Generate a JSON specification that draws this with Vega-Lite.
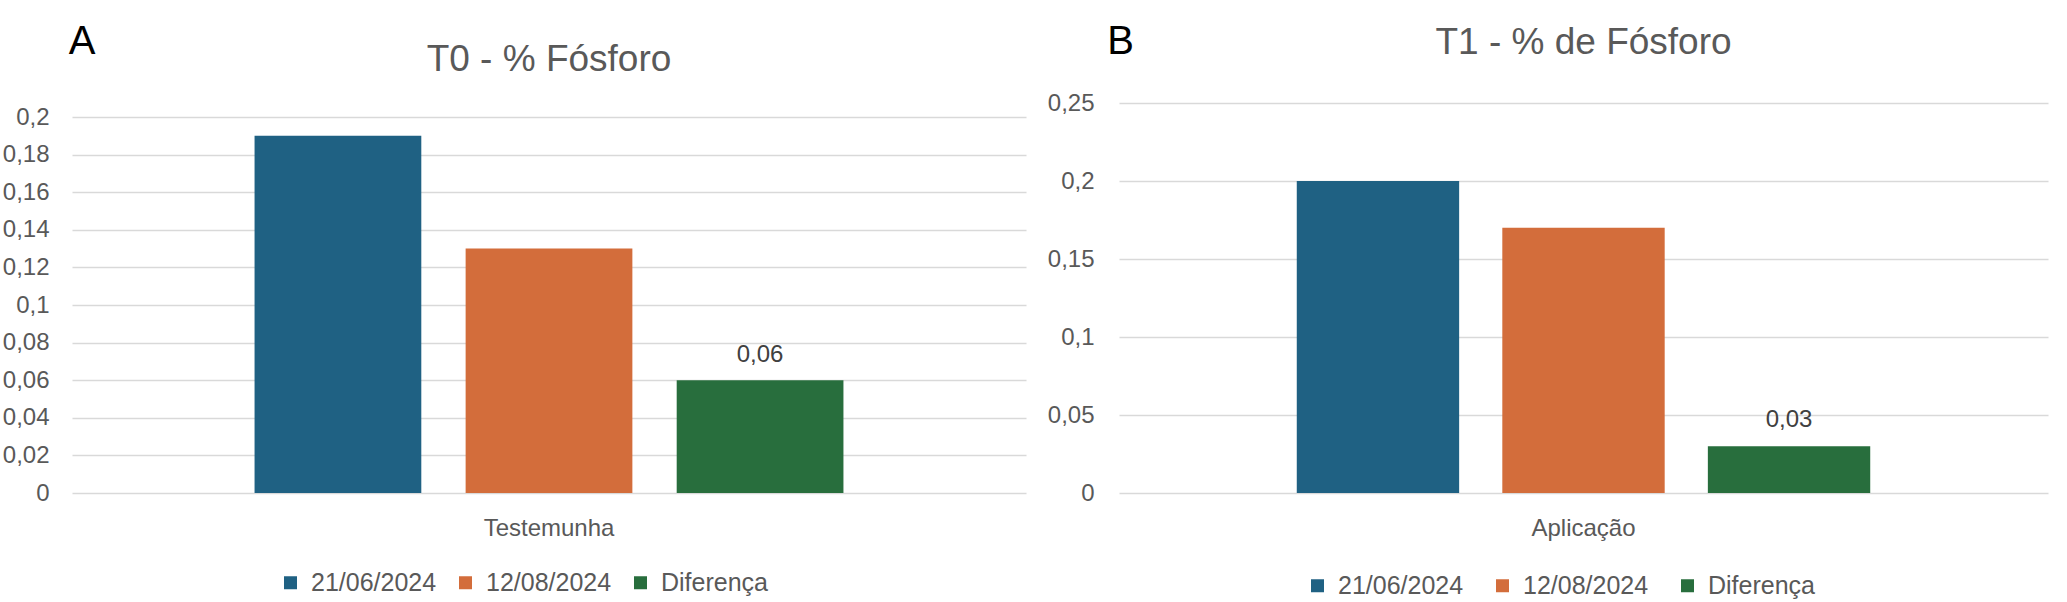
{
  "$schema": "https://vega.github.io/schema/vega-lite/v6.json",
  "background": "white",
  "padding": {"left": 2, "top": 22, "right": 5, "bottom": 5},
  "datasets": {
    "t0": [
      {"grupo": "Testemunha", "serie": "21/06/2024", "valor": 0.19},
      {"grupo": "Testemunha", "serie": "12/08/2024", "valor": 0.13},
      {"grupo": "Testemunha", "serie": "Diferença", "valor": 0.06}
    ],
    "t1": [
      {"grupo": "Aplicação", "serie": "21/06/2024", "valor": 0.2},
      {"grupo": "Aplicação", "serie": "12/08/2024", "valor": 0.17},
      {"grupo": "Aplicação", "serie": "Diferença", "valor": 0.03}
    ],
    "letraA": [{"letra": "A"}],
    "letraB": [{"letra": "B"}]
  },
  "columns": 2,
  "bounds": "flush",
  "align": "each",
  "spacing": {"row": 41, "column": 93},
  "concat": [
    {
      "width": 20,
      "height": 40,
      "data": {"name": "letraA"},
      "mark": {"type": "text", "fontSize": 40, "font": "Liberation Sans", "color": "#000000", "baseline": "middle", "align": "center"},
      "encoding": {"text": {"field": "letra", "type": "nominal"}}
    },
    {
      "width": 3,
      "height": 40,
      "data": {"name": "letraB"},
      "mark": {"type": "text", "fontSize": 40, "font": "Liberation Sans", "color": "#000000", "baseline": "middle", "align": "center"},
      "encoding": {"text": {"field": "letra", "type": "nominal"}}
    },
    {
      "width": 954,
      "height": 390,
      "data": {"name": "t0"},
      "title": {"text": "T0 - % Fósforo", "offset": 24},
      "encoding": {
        "x": {"field": "grupo", "type": "nominal", "scale": {"paddingOuter": 0.31, "paddingInner": 0},
              "axis": {"title": null, "labelAngle": 0, "labelPadding": 23}},
        "xOffset": {"field": "serie", "type": "nominal", "sort": ["21/06/2024", "12/08/2024", "Diferença"],
                    "scale": {"paddingInner": 0.21, "paddingOuter": 0}},
        "y": {"field": "valor", "type": "quantitative", "scale": {"domain": [0, 0.207447], "nice": false},
              "axis": {"title": null, "values": [0, 0.02, 0.04, 0.06, 0.08, 0.1, 0.12, 0.14, 0.16, 0.18, 0.2], "format": "~g", "grid": true, "labelPadding": 23}}
      },
      "layer": [
        {
          "mark": {"type": "bar"},
          "encoding": {
            "color": {"field": "serie", "type": "nominal",
                      "scale": {"domain": ["21/06/2024", "12/08/2024", "Diferença"], "range": ["#1f6183", "#d36d3b", "#286e3d"]},
                      "legend": {"orient": "none", "legendX": 206, "legendY": 467, "direction": "horizontal", "columns": 3, "title": null, "columnPadding": 16}}
          }
        },
        {
          "transform": [{"filter": "datum.serie === 'Diferença'"}],
          "mark": {"type": "text", "dy": -18, "baseline": "alphabetic", "fontSize": 24, "font": "Liberation Sans", "color": "#404040"},
          "encoding": {"text": {"field": "valor", "type": "quantitative", "format": "~g"}}
        }
      ]
    },
    {
      "width": 929,
      "height": 390,
      "data": {"name": "t1"},
      "title": {"text": "T1 - % de Fósforo", "offset": 29},
      "encoding": {
        "x": {"field": "grupo", "type": "nominal", "scale": {"paddingOuter": 0.31, "paddingInner": 0},
              "axis": {"title": null, "labelAngle": 0, "labelPadding": 23}},
        "xOffset": {"field": "serie", "type": "nominal", "sort": ["21/06/2024", "12/08/2024", "Diferença"],
                    "scale": {"paddingInner": 0.21, "paddingOuter": 0}},
        "y": {"field": "valor", "type": "quantitative", "scale": {"domain": [0, 0.25], "nice": false},
              "axis": {"title": null, "values": [0, 0.05, 0.1, 0.15, 0.2, 0.25], "format": "~g", "grid": true, "labelPadding": 25}}
      },
      "layer": [
        {
          "mark": {"type": "bar"},
          "encoding": {
            "color": {"field": "serie", "type": "nominal",
                      "scale": {"domain": ["21/06/2024", "12/08/2024", "Diferença"], "range": ["#1f6183", "#d36d3b", "#286e3d"]},
                      "legend": {"orient": "none", "legendX": 186, "legendY": 470, "direction": "horizontal", "columns": 3, "title": null, "columnPadding": 26}}
          }
        },
        {
          "transform": [{"filter": "datum.serie === 'Diferença'"}],
          "mark": {"type": "text", "dy": -19, "baseline": "alphabetic", "fontSize": 24, "font": "Liberation Sans", "color": "#404040"},
          "encoding": {"text": {"field": "valor", "type": "quantitative", "format": "~g"}}
        }
      ]
    }
  ],
  "resolve": {"scale": {"x": "independent", "y": "independent", "color": "independent", "xOffset": "independent"}},
  "config": {
    "locale": {"number": {"decimal": ",", "thousands": ".", "grouping": [3], "currency": ["", ""]}},
    "view": {"stroke": null},
    "font": "Liberation Sans",
    "title": {"font": "Liberation Sans", "fontSize": 37, "fontWeight": "normal", "color": "#595959", "anchor": "middle"},
    "axis": {"labelFont": "Liberation Sans", "labelFontSize": 24, "labelColor": "#595959", "domain": false, "ticks": false, "gridColor": "#d9d9d9", "gridWidth": 1.5},
    "axisX": {"grid": false},
    "legend": {"labelFont": "Liberation Sans", "labelFontSize": 25, "labelColor": "#595959", "symbolType": "square", "symbolSize": 169, "symbolStrokeWidth": 0, "labelOffset": 8, "columnPadding": 30, "labelLimit": 400}
  }
}
